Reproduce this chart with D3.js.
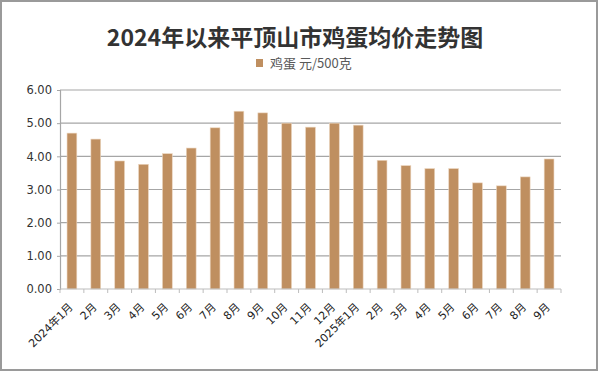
<!DOCTYPE html>
<html>
<head>
<meta charset="utf-8">
<script src="https://cdn.jsdelivr.net/npm/d3@7"></script>
<style>
  body { margin: 0; background: #fff; }
  text { font-family: "DejaVu Sans", "Noto Sans CJK SC", sans-serif; }
</style>
</head>
<body>
<div id="chart"></div>
<script>
// months shown on the x axis
var months = ["2024年1月", "2月", "3月", "4月", "5月", "6月", "7月", "8月", "9月", "10月", "11月", "12月",
  "2025年1月", "2月", "3月", "4月", "5月", "6月", "7月", "8月", "9月"];
// average egg price, yuan per 500 g
var prices = [4.70, 4.52, 3.86, 3.76, 4.08, 4.25, 4.86, 5.36, 5.31, 5.00, 4.88, 5.00,
  4.94, 3.88, 3.72, 3.63, 3.63, 3.20, 3.11, 3.38, 3.92];
var yTicks = [0, 1, 2, 3, 4, 5, 6];

var svgWidth = 600, svgHeight = 374;
var margin = { top: 90, right: 39, bottom: 85, left: 60 };
var width = svgWidth - margin.left - margin.right;
var height = svgHeight - margin.top - margin.bottom;

var svg = d3.select("#chart").append("svg")
  .attr("width", svgWidth)
  .attr("height", svgHeight);

// outer frame
svg.append("rect")
  .attr("x", 1).attr("y", 1)
  .attr("width", 596).attr("height", 369)
  .attr("fill", "#fff")
  .attr("stroke", "#9a9a9a")
  .attr("stroke-width", 2);

svg.append("text")
  .attr("x", 295).attr("y", 46)
  .attr("text-anchor", "middle")
  .style("font-family", "'Noto Sans CJK SC', sans-serif")
  .style("font-weight", "bold")
  .style("font-size", "23px")
  .attr("fill", "#333")
  .text("2024年以来平顶山市鸡蛋均价走势图");

// legend
svg.append("rect")
  .attr("x", 256).attr("y", 59)
  .attr("width", 7).attr("height", 8)
  .attr("fill", "#bf8f60");
svg.append("text")
  .attr("x", 270).attr("y", 68)
  .style("font-family", "'Noto Sans CJK SC', sans-serif")
  .style("font-size", "13px")
  .attr("fill", "#595959")
  .text("鸡蛋 元/500克");

var chartGroup = svg.append("g")
  .attr("transform", `translate(${margin.left}, ${margin.top})`);

var xScale = d3.scaleBand()
  .domain(months.map((m, i) => i))
  .range([0, width])
  .padding(0);

var yScale = d3.scaleLinear()
  .domain([0, 6])
  .range([height, 0]);

// gridlines
chartGroup.selectAll(".grid")
  .data(yTicks.slice(1))
  .enter().append("line")
  .attr("x1", 0).attr("x2", width)
  .attr("y1", d => yScale(d)).attr("y2", d => yScale(d))
  .attr("stroke", "#a6a6a6")
  .attr("stroke-width", 1.2);

// y axis
var leftAxis = d3.axisLeft(yScale)
  .tickValues(yTicks)
  .tickFormat(d3.format(".2f"))
  .tickSize(3)
  .tickPadding(5);
var yAxisG = chartGroup.append("g").call(leftAxis);
yAxisG.select(".domain").attr("stroke", "#a6a6a6").attr("stroke-width", 1.2);
yAxisG.selectAll(".tick line").attr("stroke", "#a6a6a6");
yAxisG.selectAll("text")
  .style("font-size", "11.5px")
  .attr("fill", "#333");

// bars
var barW = xScale.bandwidth() * 0.41;
chartGroup.selectAll(".bar")
  .data(prices)
  .enter().append("rect")
  .attr("x", (d, i) => xScale(i) + (xScale.bandwidth() - barW) / 2)
  .attr("y", d => yScale(d))
  .attr("width", barW)
  .attr("height", d => height - yScale(d))
  .attr("fill", "#bf8f60")
  .attr("stroke", "#ecd6bf")
  .attr("stroke-width", 0.6);

// x axis line and boundary ticks
chartGroup.append("line")
  .attr("x1", 0).attr("x2", width)
  .attr("y1", height).attr("y2", height)
  .attr("stroke", "#bdbdbd")
  .attr("stroke-width", 1.2);
chartGroup.selectAll(".xtick")
  .data(d3.range(months.length + 1))
  .enter().append("line")
  .attr("x1", i => i * xScale.step()).attr("x2", i => i * xScale.step())
  .attr("y1", height).attr("y2", height + 4)
  .attr("stroke", "#bdbdbd");

// rotated month labels
chartGroup.selectAll(".xlabel")
  .data(months)
  .enter().append("text")
  .attr("transform", (d, i) => `translate(${xScale(i) + xScale.bandwidth() / 2 - 1}, ${height + 16}) rotate(-45)`)
  .attr("text-anchor", "end")
  .attr("dy", "0.35em")
  .style("font-size", "11px")
  .attr("fill", "#222")
  .text(d => d);
</script>
</body>
</html>
